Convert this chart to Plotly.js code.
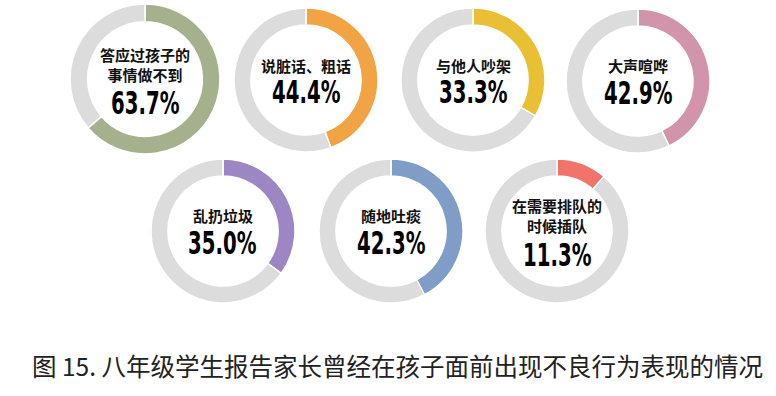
<!DOCTYPE html>
<html>
<head>
<meta charset="utf-8">
<script src="https://cdn.plot.ly/plotly-3.0.1.min.js"></script>
<style>
html,body{margin:0;padding:0;background:#fff;}
#chart{width:776px;height:396px;}
</style>
</head>
<body>
<div id="chart"></div>
<script>
// Data
var categories = ['答应过孩子的<br>事情做不到', '说脏话、粗话', '与他人吵架', '大声喧哗', '乱扔垃圾', '随地吐痰', '在需要排队的<br>时候插队'];
var percentages = [63.7, 44.4, 33.3, 42.9, 35.0, 42.3, 11.3];
var percentLabels = ['63.7%', '44.4%', '33.3%', '42.9%', '35.0%', '42.3%', '11.3%'];
var captionText = '图 15. 八年级学生报告家长曾经在孩子面前出现不良行为表现的情况';

// Styles / layout
var colors = ['#a5b08c', '#f2a445', '#e9bf33', '#d294aa', '#9c86c3', '#7f9dc7', '#f1746b'];
var restColor = '#dcdcdd';
var W = 776, H = 396;
var centers = [[145, 79, 75], [306, 80, 72], [473, 80, 72], [638, 81, 72],
               [223, 231, 72], [391, 231, 72], [557, 231, 72]];

var traces = [];
var annotations = [];
for (var i = 0; i < percentages.length; i++) {
  var cx = centers[i][0], cy = centers[i][1], r = centers[i][2];
  traces.push({
    type: 'pie',
    values: [percentages[i], 100 - percentages[i]],
    labels: [categories[i], '其他'],
    sort: false,
    direction: 'clockwise',
    rotation: 0,
    hole: 0.765,
    textinfo: 'none',
    hoverinfo: 'none',
    showlegend: false,
    marker: {colors: [colors[i], restColor], line: {color: '#ffffff', width: 1.5}},
    domain: {x: [(cx - r) / W, (cx + r) / W], y: [1 - (cy + r) / H, 1 - (cy - r) / H]}
  });
  var twoLine = categories[i].indexOf('<br>') >= 0;
  annotations.push({
    xref: 'paper', yref: 'paper', x: cx / W, y: 1 - (cy - 15) / H,
    xanchor: 'center', yanchor: 'middle', showarrow: false, borderpad: 0,
    text: '<b>' + categories[i] + '</b>',
    font: {family: 'Noto Sans CJK SC, sans-serif', size: 15, color: '#111'}
  });
  annotations.push({
    xref: 'paper', yref: 'paper', x: cx / W, y: 1 - (cy + (twoLine ? 24 : 12)) / H,
    xanchor: 'center', yanchor: 'middle', showarrow: false, borderpad: 0,
    text: '<b>' + percentLabels[i] + '</b>',
    font: {family: 'DejaVu Sans, sans-serif', size: 29, color: '#000'}
  });
}
annotations.push({
  xref: 'paper', yref: 'paper', x: 398 / W, y: 1 - 365 / H,
  xanchor: 'center', yanchor: 'middle', showarrow: false,
  text: captionText,
  font: {family: 'Noto Sans CJK SC, sans-serif', size: 24.5, color: '#222'}
});

var layout = {
  width: W, height: H,
  margin: {l: 0, r: 0, t: 0, b: 0},
  paper_bgcolor: '#ffffff',
  plot_bgcolor: '#ffffff',
  annotations: annotations
};
Plotly.newPlot('chart', traces, layout, {displayModeBar: false, staticPlot: true}).then(function () {
  // condense the percentage numbers like the reference's narrow display face
  document.querySelectorAll('.annotation-text').forEach(function (t) {
    if (t.textContent.indexOf('%') >= 0) {
      t.style.transformBox = 'fill-box';
      t.style.transformOrigin = 'center';
      t.style.transform = 'scale(0.68, 1.08)';
    }
  });
});
</script>
</body>
</html>
